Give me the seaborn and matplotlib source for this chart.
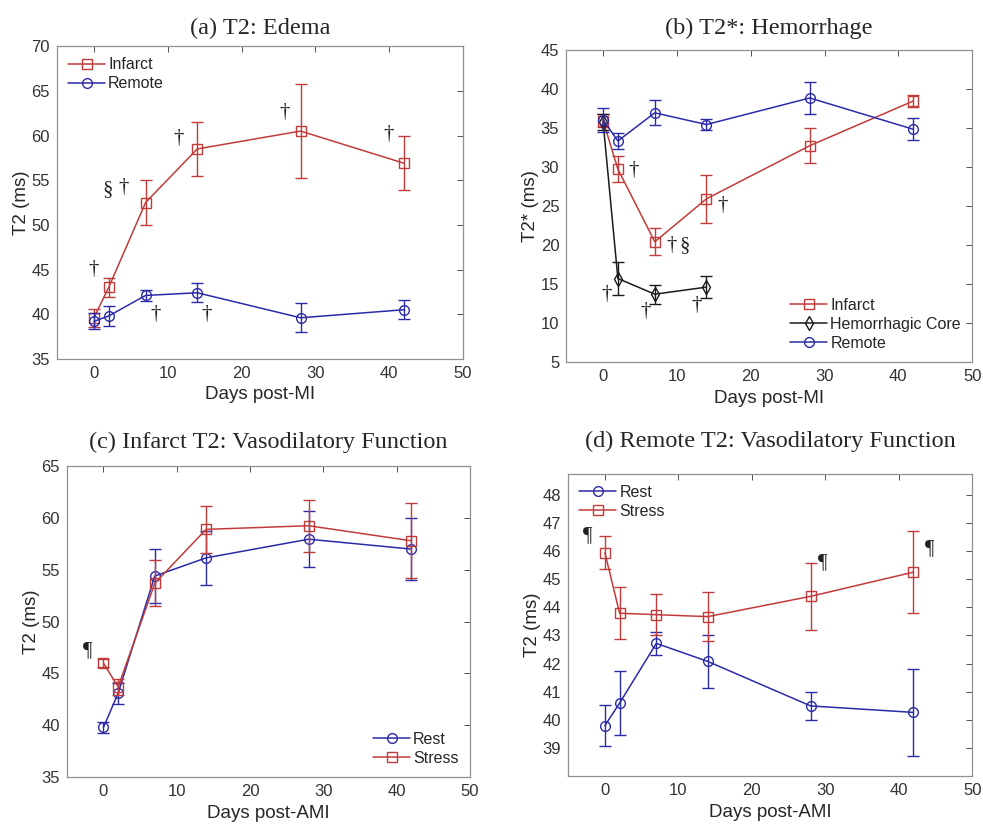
import numpy as np
import pandas as pd
import matplotlib
matplotlib.use('Agg')
import matplotlib.pyplot as plt
import seaborn as sns

sns.set_style('white')
plt.rcParams['font.family'] = ['Liberation Sans', 'DejaVu Sans']

RED = '#c23b3b'
BLUE = '#2b2ba8'
BLACK = '#1a1a1a'

days = [0, 2, 7, 14, 28, 42]

# (a) T2 edema
a_infarct = [39.6, 43.0, 52.5, 58.5, 60.5, 56.9]
a_infarct_err = [1.0, 1.1, 2.5, 3.05, 5.3, 3.05]
a_remote = [39.2, 39.8, 42.1, 42.4, 39.6, 40.5]
a_remote_err = [0.9, 1.1, 0.6, 1.05, 1.6, 1.05]

# (b) T2* hemorrhage
b_infarct = [35.9, 29.7, 20.4, 25.9, 32.7, 38.4]
b_infarct_err = [0.8, 1.65, 1.75, 3.1, 2.2, 0.8]
core_days = [0, 2, 7, 14]
b_core = [35.7, 15.7, 13.7, 14.6]
b_core_err = [1.0, 2.1, 1.2, 1.4]
b_remote = [36.0, 33.3, 36.9, 35.4, 38.8, 34.8]
b_remote_err = [1.5, 1.05, 1.6, 0.75, 2.0, 1.4]

# (c) infarct T2 rest vs stress
c_rest = [39.8, 43.1, 54.4, 56.15, 57.95, 57.0]
c_rest_err = [0.5, 1.0, 2.65, 2.6, 2.7, 3.0]
c_stress = [46.0, 43.7, 53.7, 58.9, 59.25, 57.8]
c_stress_err = [0.4, 0.8, 2.2, 2.25, 2.5, 3.6]

# (d) remote T2 rest vs stress
d_rest = [39.8, 40.6, 42.72, 42.08, 40.5, 40.27]
d_rest_err = [0.72, 1.13, 0.4, 0.93, 0.5, 1.55]
d_stress = [45.94, 43.79, 43.74, 43.67, 44.39, 45.25]
d_stress_err = [0.58, 0.92, 0.73, 0.86, 1.18, 1.46]

fig = plt.figure(figsize=(9.83, 8.25), dpi=100)
ax_a = fig.add_axes([0.058, 0.565, 0.413, 0.379])
ax_b = fig.add_axes([0.576, 0.561, 0.413, 0.379])
ax_c = fig.add_axes([0.068, 0.058, 0.410, 0.377])
ax_d = fig.add_axes([0.578, 0.059, 0.411, 0.367])


def series(ax, x, y, err, color, marker, label, ms=7):
    df = pd.DataFrame({'x': x, 'y': y})
    sns.lineplot(data=df, x='x', y='y', ax=ax, color=color, marker=marker,
                 markersize=ms, markerfacecolor='none', markeredgecolor=color,
                 markeredgewidth=1.0, linewidth=1.1, label=label)
    ax.errorbar(x, y, yerr=err, fmt='none', ecolor=color, elinewidth=1.0,
                capsize=4, capthick=1.0)


def style(ax, title, ylabel, xlabel, ylim, yticks, tpad):
    ax.set_xlim(-5, 50)
    ax.set_ylim(*ylim)
    ax.set_xticks(range(0, 51, 10))
    ax.set_yticks(yticks)
    ax.set_title(title, family='Liberation Serif', fontsize=17.5, pad=tpad)
    ax.set_xlabel(xlabel, fontsize=13.5, labelpad=4)
    ax.set_ylabel(ylabel, fontsize=13.5, labelpad=1)
    ax.tick_params(direction='in', length=4, width=0.6, top=True, right=True,
                   labelsize=12, colors='#333333', pad=5)
    for s in ax.spines.values():
        s.set_color('#909090')
        s.set_linewidth(0.9)


def legend(ax, loc):
    ax.legend(loc=loc, frameon=False, fontsize=11.5, handlelength=2.3,
              borderaxespad=0.3, labelspacing=0.25, handletextpad=0.2)


def mark(ax, pts, sym):
    for x, y in pts:
        ax.text(x, y, sym, family='Liberation Serif', fontsize=15,
                ha='center', va='center', color='#222222')


# (a)
series(ax_a, days, a_infarct, a_infarct_err, RED, 's', 'Infarct')
series(ax_a, days, a_remote, a_remote_err, BLUE, 'o', 'Remote')
style(ax_a, '(a) T2: Edema', 'T2 (ms)', 'Days post-MI', (35, 70),
      range(35, 71, 5), 9)
legend(ax_a, 'upper left')
mark(ax_a, [(0, 45.0), (4.0, 54.2), (11.5, 59.7), (25.8, 62.6), (39.9, 60.1),
            (8.3, 40.0), (15.2, 40.0)], '†')
mark(ax_a, [(1.8, 53.9)], '§')

# (b)
series(ax_b, days, b_infarct, b_infarct_err, RED, 's', 'Infarct')
series(ax_b, core_days, b_core, b_core_err, BLACK, 'd', 'Hemorrhagic Core')
series(ax_b, days, b_remote, b_remote_err, BLUE, 'o', 'Remote')
style(ax_b, '(b) T2*: Hemorrhage', 'T2* (ms)', 'Days post-MI', (5, 45),
      range(5, 46, 5), 11.5)
legend(ax_b, 'lower right')
mark(ax_b, [(4.15, 29.5), (16.2, 25.1), (9.3, 19.9), (0.45, 13.6),
            (5.7, 11.5), (12.6, 12.3)], '†')
mark(ax_b, [(11.1, 19.9)], '§')

# (c)
series(ax_c, days, c_rest, c_rest_err, BLUE, 'o', 'Rest')
series(ax_c, days, c_stress, c_stress_err, RED, 's', 'Stress')
style(ax_c, '(c) Infarct T2: Vasodilatory Function', 'T2 (ms)', 'Days post-AMI',
      (35, 65), range(35, 66, 5), 13)
legend(ax_c, 'lower right')
mark(ax_c, [(-2.2, 47.2)], '¶')

# (d)
series(ax_d, days, d_rest, d_rest_err, BLUE, 'o', 'Rest')
series(ax_d, days, d_stress, d_stress_err, RED, 's', 'Stress')
style(ax_d, '(d) Remote T2: Vasodilatory Function', 'T2 (ms)', 'Days post-AMI',
      (38.0, 48.75), range(39, 49), 19)
legend(ax_d, 'upper left')
mark(ax_d, [(-2.3, 46.55), (29.7, 45.6), (44.2, 46.1)], '¶')

fig.savefig('out.png', dpi=100)
